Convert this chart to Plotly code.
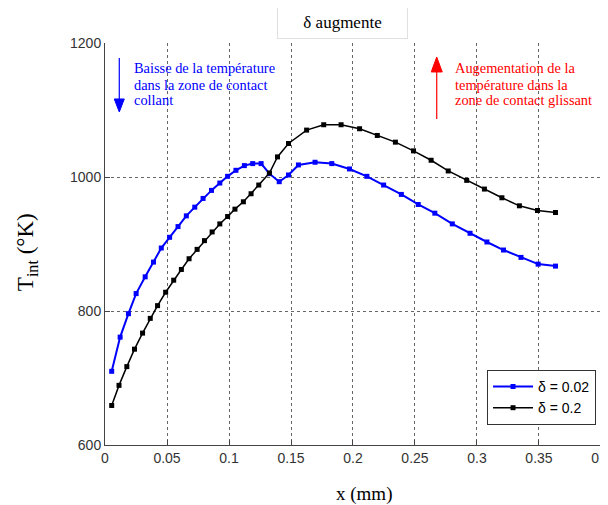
import plotly.graph_objects as go

# interface temperature along the contact
x_d002 = [0.0054, 0.0122, 0.0189, 0.0251, 0.0324, 0.0391, 0.0454, 0.0521, 0.0589, 0.0656,
          0.0724, 0.0791, 0.0859, 0.0926, 0.0989, 0.1056, 0.1124, 0.1191, 0.1259, 0.1326,
          0.1405, 0.148, 0.156, 0.1694, 0.1829, 0.1972, 0.2112, 0.2247, 0.239, 0.2526,
          0.266, 0.2801, 0.2944, 0.308, 0.3214, 0.3355, 0.3493, 0.3633]
t_d002 = [710, 761, 796, 826, 851, 873, 894, 910, 926, 942,
          955, 968, 980, 991, 1001, 1010, 1017, 1020, 1020, 1005,
          993, 1003, 1018, 1022, 1020, 1012, 1001, 988, 974, 959,
          946, 930, 916, 903, 891, 880, 870, 867]

x_d02 = [0.0054, 0.0113, 0.0176, 0.0238, 0.0303, 0.0365, 0.0424, 0.0489, 0.0554, 0.0616,
         0.0678, 0.0743, 0.0802, 0.0864, 0.0926, 0.0989, 0.1048, 0.1116, 0.1178, 0.124,
         0.1326, 0.1391, 0.148, 0.1626, 0.1764, 0.1904, 0.2053, 0.2196, 0.2342, 0.2488,
         0.263, 0.2768, 0.2917, 0.306, 0.3201, 0.3342, 0.3488, 0.3633]
t_d02 = [659, 689, 717, 743, 767, 789, 808, 828, 846, 862,
         878, 892, 905, 918, 930, 941, 952, 963, 975, 988,
         1006, 1030, 1050, 1070, 1078, 1078, 1072, 1062, 1052, 1039,
         1025, 1009, 995, 982, 969, 957, 950, 947]

blue_note = ["Baisse de la température", "dans la zone de contact", "collant"]
red_note = ["Augementation de la", "température dans la", "zone de contact glissant"]

serif = "Liberation Serif"
sans = "Liberation Sans"

fig = go.Figure()
fig.add_trace(go.Scatter(x=x_d002, y=t_d002, mode="lines+markers", name="δ = 0.02",
                         line=dict(color="#0000ff", width=2),
                         marker=dict(symbol="square", size=5, color="#0000ff")))
fig.add_trace(go.Scatter(x=x_d02, y=t_d02, mode="lines+markers", name="δ = 0.2",
                         line=dict(color="black", width=1.5),
                         marker=dict(symbol="square", size=5, color="black")))

# arrows drawn as shapes (shaft + triangular head), paper coordinates
fig.add_shape(type="line", xref="paper", yref="paper", x0=0.0288, x1=0.0288,
              y0=0.9627, y1=0.8607, line=dict(color="#0000ff", width=1.2))
fig.add_shape(type="path", xref="paper", yref="paper",
              path="M 0.0187,0.8607 L 0.0389,0.8607 L 0.0288,0.8284 Z",
              fillcolor="#0000ff", line=dict(color="#0000ff", width=1))
fig.add_shape(type="line", xref="paper", yref="paper", x0=0.6688, x1=0.6688,
              y0=0.8109, y1=0.9279, line=dict(color="red", width=1.2))
fig.add_shape(type="path", xref="paper", yref="paper",
              path="M 0.6577,0.9279 L 0.6799,0.9279 L 0.6688,0.9652 Z",
              fillcolor="red", line=dict(color="red", width=1))

# comments, one line each
line_y = [0.938, 0.8955, 0.857]
for txt, yy in zip(blue_note, line_y):
    fig.add_annotation(xref="paper", yref="paper", x=0.0544, y=yy, xanchor="left",
                       yanchor="middle", showarrow=False, text=txt,
                       font=dict(family=serif, size=14.4, color="#0000ff"))
for txt, yy in zip(red_note, line_y):
    fig.add_annotation(xref="paper", yref="paper", x=0.7016, y=yy, xanchor="left",
                       yanchor="middle", showarrow=False, text=txt,
                       font=dict(family=serif, size=14.4, color="red"))

# boxed caption above the axes
fig.add_annotation(xref="paper", yref="paper", x=0.478, y=1.051, xanchor="center",
                   yanchor="middle", showarrow=False,
                   text="δ augmente", font=dict(family=serif, size=17, color="black"),
                   bgcolor="white", bordercolor="#e0e0e0", borderwidth=1,
                   width=121, height=23, borderpad=4)

# axis titles
fig.add_annotation(xref="paper", yref="paper", x=0.523, y=-0.122, xanchor="center",
                   yanchor="middle", showarrow=False,
                   text="x (mm)", font=dict(family=serif, size=19, color="black"))
fig.add_annotation(xref="paper", yref="paper", x=-0.157, y=0.48, xanchor="center",
                   yanchor="middle", showarrow=False,
                   textangle=-90, text="T<sub>int</sub> (°K)",
                   font=dict(family=serif, size=23, color="black"))

fig.update_xaxes(range=[0, 0.40001], dtick=0.05, tick0=0, showgrid=True, gridcolor="#666",
                 griddash="dot", gridwidth=1, zeroline=False, showline=True,
                 linecolor="#444", linewidth=1, ticks="inside", ticklen=5, tickcolor="#444",
                 tickfont=dict(family=sans, size=14, color="#333"), automargin=False,
                 ticklabeloverflow="allow")
fig.update_yaxes(range=[600, 1200], dtick=200, showgrid=True, gridcolor="#666",
                 griddash="dot", gridwidth=1, zeroline=False, showline=True,
                 linecolor="#444", linewidth=1, ticks="inside", ticklen=5, tickcolor="#444",
                 tickfont=dict(family=sans, size=14, color="#333"), automargin=False,
                 ticklabeloverflow="allow")

# the page adds an 8px body margin, so the figure is drawn 8px smaller
fig.update_layout(width=600, height=497, plot_bgcolor="white", paper_bgcolor="white",
                  margin=dict(l=97, r=7, t=35, b=60),
                  legend=dict(x=0.99, y=0.05, xanchor="right", yanchor="bottom",
                              bgcolor="white", bordercolor="#333", borderwidth=1,
                              font=dict(family=sans, size=14, color="black"),
                              tracegroupgap=0, itemwidth=40))

fig.write_html("out.html")
